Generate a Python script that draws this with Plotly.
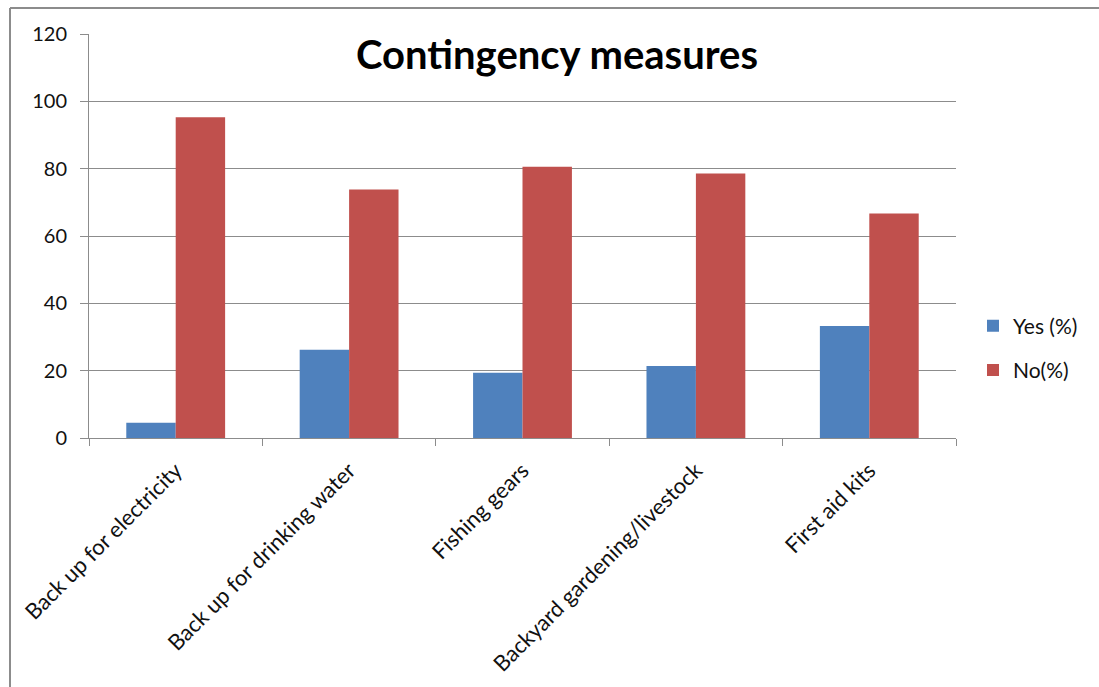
import plotly.graph_objects as go

categories = [
    "Back up for electricity",
    "Back up for drinking water",
    "Fishing gears",
    "Backyard gardening/livestock",
    "First aid kits",
]
yes_pct = [4.5, 26.2, 19.4, 21.4, 33.3]
no_pct = [95.3, 73.8, 80.6, 78.6, 66.7]
y_ticks = [0, 20, 40, 60, 80, 100, 120]

W, H = 1099, 687
L, R, T, B = 89, 143, 34, 249
pw, ph = W - L - R, H - T - B

FONT = "Lato, Carlito, Calibri, sans-serif"

fig = go.Figure()
fig.add_trace(go.Bar(x=categories, y=yes_pct, name="Yes (%)", legendgroup="yes",
                     marker=dict(color="#4F81BD", line=dict(width=0))))
fig.add_trace(go.Bar(x=categories, y=no_pct, name="No(%)", legendgroup="no",
                     marker=dict(color="#C0504D", line=dict(width=0))))

# outer chart frame: top and left edges
fx0 = (10 - L) / pw
fx1 = (W + 10 - L) / pw
fy_top = 1 + (T - 8) / ph
fy_bot = -(H + 10 - T - ph) / ph
frame = dict(color="#8c8c8c", width=2)
fig.add_shape(type="line", xref="paper", yref="paper", x0=fx0, x1=fx1,
              y0=fy_top, y1=fy_top, line=frame, layer="below")
fig.add_shape(type="line", xref="paper", yref="paper", x0=fx0, x1=fx0,
              y0=fy_bot, y1=fy_top, line=frame, layer="below")

fig.update_layout(
    width=W, height=H,
    margin=dict(l=L, r=R, t=T, b=B, pad=0, autoexpand=False),
    paper_bgcolor="white", plot_bgcolor="white",
    barmode="group", bargap=0.43, bargroupgap=0,
    font=dict(family=FONT, color="#111111", size=19),
    title=dict(text="<b>Contingency measures</b>", x=557 / W, xref="container",
               xanchor="center", y=1 - 55 / H, yref="container", yanchor="middle",
               font=dict(family=FONT, size=40, color="black")),
    legend=dict(x=973 / W, xref="container", xanchor="left",
                y=1 - 348 / H, yref="container", yanchor="middle",
                font=dict(size=21, family=FONT), bgcolor="rgba(0,0,0,0)",
                itemwidth=30, traceorder="grouped", tracegroupgap=14),
    showlegend=True,
)
fig.update_xaxes(
    type="category", tickangle=-45, tickson="boundaries",
    ticks="outside", ticklen=7, tickcolor="#8c8c8c",
    showline=True, linecolor="#8c8c8c", linewidth=1, mirror=False,
    showgrid=False, tickfont=dict(size=22, family=FONT), ticklabelstandoff=10,
)
fig.update_yaxes(
    range=[0, 120], tickvals=y_ticks, ticktext=[str(v) for v in y_ticks],
    ticks="outside", ticklen=8, tickcolor="#8c8c8c",
    showline=True, linecolor="#8c8c8c", linewidth=1,
    showgrid=True, gridcolor="#8c8c8c", gridwidth=1, zeroline=False,
    tickfont=dict(size=20, family=FONT), ticklabelstandoff=9,
)

fig.write_html("out.html", config={"displayModeBar": False})
